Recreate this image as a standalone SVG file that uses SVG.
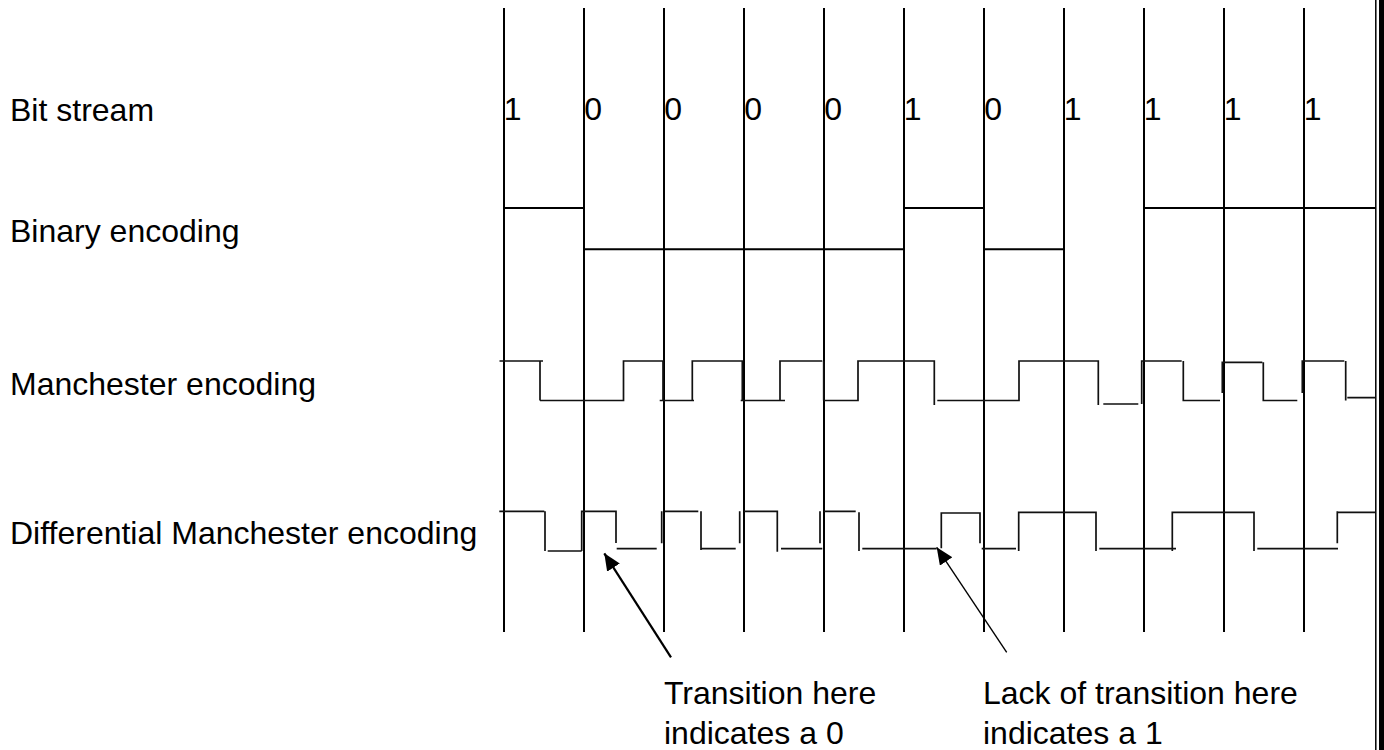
<svg xmlns="http://www.w3.org/2000/svg" width="1384" height="750" viewBox="0 0 1384 750">
  <style>
    .lbl { font-family: "Liberation Sans", Arial, sans-serif; font-size: 32px; fill: #000; }
    .grid { stroke: #000; stroke-width: 2; fill: none; }
    .bin { stroke: #000; stroke-width: 2; fill: none; }
    .wave { stroke: #111; stroke-width: 1.7; fill: none; stroke-linecap: butt; }
    .arr1 { stroke: #000; stroke-width: 2.2; fill: none; }
    .arr2 { stroke: #000; stroke-width: 1.4; fill: none; }
  </style>
  <defs>
    <marker id="head" markerUnits="userSpaceOnUse" markerWidth="18" markerHeight="16" refX="17" refY="7.5" orient="auto">
      <path d="M0,0 L17,7.5 L0,15 Z" fill="#000"/>
    </marker>
  </defs>
  <rect x="0" y="0" width="1384" height="750" fill="#fff"/>

  <g id="row-labels">
    <text class="lbl" x="10" y="120.5">Bit stream</text>
    <text class="lbl" x="10" y="242">Binary encoding</text>
    <text class="lbl" x="10" y="394.5">Manchester encoding</text>
    <text class="lbl" x="10" y="544">Differential Manchester encoding</text>
  </g>

  <g id="grid">
    <path class="grid" d="M504,8V632 M584,8V632 M664,8V632 M744,8V632 M824,8V632 M904,8V632 M984,8V632 M1064,8V632 M1144,8V632 M1224,8V632 M1304,8V632"/>
  </g>

  <g id="border">
    <line x1="1375.8" y1="0" x2="1375.8" y2="750" stroke="#000" stroke-width="1.5"/>
    <rect x="1379" y="0" width="5" height="750" fill="#000"/>
  </g>

  <g id="bit-stream">
    <text class="lbl" x="503.8" y="119.5">1</text>
    <text class="lbl" x="584.3" y="119.5">0</text>
    <text class="lbl" x="664.3" y="119.5">0</text>
    <text class="lbl" x="744.3" y="119.5">0</text>
    <text class="lbl" x="824.3" y="119.5">0</text>
    <text class="lbl" x="903.8" y="119.5">1</text>
    <text class="lbl" x="984.3" y="119.5">0</text>
    <text class="lbl" x="1063.8" y="119.5">1</text>
    <text class="lbl" x="1143.8" y="119.5">1</text>
    <text class="lbl" x="1223.8" y="119.5">1</text>
    <text class="lbl" x="1303.8" y="119.5">1</text>
  </g>

  <g id="binary-encoding">
    <path class="bin" d="M504,208H584 M584,249.3H904 M904,208H984 M984,249.3H1064 M1144,208H1375.5"/>
  </g>

  <g id="manchester-encoding">
    <path class="wave" d="M499.5,361H543 M540,361V400.5 M540,400.5H623.5V361H663V400.5 M659.7,400.5H694 M692.3,400.5V361H742.3V400.5 M740.7,400.5H785 M780,400.5V361H822.3 M823.7,361V400.5 M823.7,400.5H858V361H934.3V405 M937.3,400.5H1019V361H1098.3V405 M1103.3,404H1138.3 M1141.7,404V361H1181.7 M1183.3,361V400.5H1220 M1222.3,393V362.3H1262.3 M1263.3,362.3V400.5H1297.3 M1302.3,393V361H1344.3 M1345.7,361V400.5 M1347.3,397.7H1375.3"/>
  </g>

  <g id="differential-manchester-encoding">
    <path class="wave" d="M499.3,511.3H544.3 M545,511.3V551 M547.7,551H581.7 M581.7,551V511.3H616V543 M616.7,548.7H656.7 M661.7,511.3V543.3 M665,511.3H698.3 M701,511.3V550 M701,548.7H735.7 M739.7,511.3V543.3 M744,511.3H777.3V551.7 M781,548.7H822.3 M820,511.3V543.3 M823.7,511.3H855.7 M859,512.3V551 M862.3,548.7H936.7 M941.3,548.3V513H980V543.3 M981.7,548.7H1016 M1018.7,551V512.3H1096V551 M1099.3,548.7H1176 M1172.3,551V512.3H1254V551 M1257.3,548.7H1338 M1337.3,543.3V511.3 M1337.3,512.3H1375.3"/>
  </g>

  <g id="connectors">
    <line class="arr1" x1="671" y1="657.3" x2="604.3" y2="553.3" marker-end="url(#head)"/>
    <line class="arr2" x1="1006.7" y1="652.3" x2="936.7" y2="547.3" marker-end="url(#head)"/>
  </g>

  <g id="note-transition">
    <text class="lbl" x="664" y="703.5">Transition here</text>
    <text class="lbl" x="664" y="743.5">indicates a 0</text>
  </g>
  <g id="note-lack">
    <text class="lbl" x="983" y="703.5">Lack of transition here</text>
    <text class="lbl" x="983" y="743.5">indicates a 1</text>
  </g>
</svg>
